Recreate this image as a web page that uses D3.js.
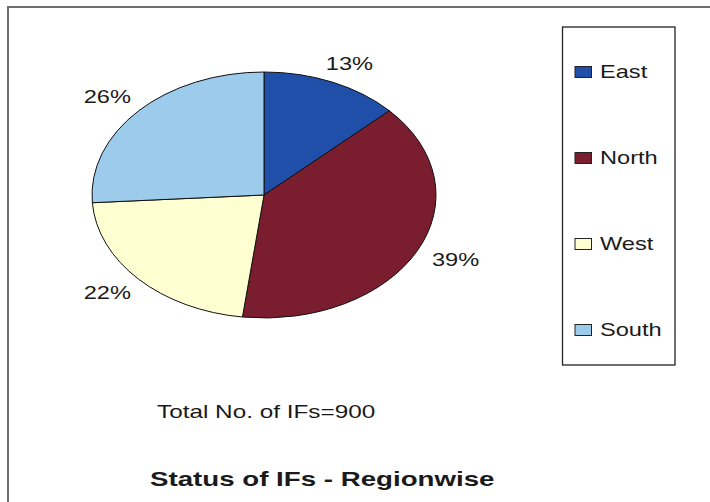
<!DOCTYPE html>
<html>
<head>
<meta charset="utf-8">
<script src="https://cdn.jsdelivr.net/npm/d3@7"></script>
<style>
  body { margin: 0; background: #fff; }
  text { font-family: "Liberation Sans", Arial, sans-serif; fill: #1a1a1a; }
</style>
</head>
<body>
<script>
// chart values
const regions = ['East', 'North', 'West', 'South'];
const shares = [13, 39, 22, 26];
const sliceColors = ['#1f4fa8', '#7a1d2e', '#ffffd2', '#9ccbeb'];
const totalNote = 'Total No. of IFs=900';
const chartTitle = 'Status of IFs - Regionwise';

const width = 710, height = 502;
const stretch = 1.35;               // the picture is wider than tall glyph-wise
const cx = 264, cy = 195, rx = 172, ry = 123;

const svg = d3.select('body').append('svg')
              .attr('width', width)
              .attr('height', height)

// outer frame (right and bottom edges fall outside the picture)
svg.append('rect')
   .attr('x', 8).attr('y', 7)
   .attr('width', 720).attr('height', 520)
   .attr('fill', 'none')
   .attr('stroke', '#6e6e6e')
   .attr('stroke-width', 2)

const data = regions.map((r, i) => ({region: r, value: shares[i], color: sliceColors[i]}))

const pie = d3.pie().sort(null).value(d => d.value)
const arcs = pie(data)
const arc = d3.arc().innerRadius(0).outerRadius(rx)

const pieG = svg.append('g')
                .attr('transform', `translate(${cx},${cy}) scale(1,${ry / rx})`)

pieG.selectAll('path')
    .data(arcs)
    .enter()
    .append('path')
    .attr('d', arc)
    .attr('fill', d => d.data.color)
    .attr('stroke', '#111')
    .attr('stroke-width', 1)
    .attr('vector-effect', 'non-scaling-stroke')

// percentage labels outside the ellipse
const labelRx = 215, labelRy = 143;
svg.selectAll('.pct')
   .data(arcs)
   .enter()
   .append('text')
   .attr('class', 'pct')
   .attr('transform', d => {
      const a = (d.startAngle + d.endAngle) / 2;
      const x = cx + Math.sin(a) * labelRx;
      const y = cy - Math.cos(a) * labelRy;
      return `translate(${x},${y}) scale(${stretch},1)`;
   })
   .attr('text-anchor', 'middle')
   .attr('dy', '0.36em')
   .style('font-size', '17.5px')
   .text(d => d.data.value + '%')

// legend
const legend = svg.append('g')
legend.append('rect')
      .attr('x', 562.5).attr('y', 27)
      .attr('width', 112.5).attr('height', 338)
      .attr('fill', '#fff')
      .attr('stroke', '#222')
      .attr('stroke-width', 1.3)

const legendY = d3.scaleLinear().domain([0, regions.length - 1]).range([72, 330])

const items = legend.selectAll('.item')
                    .data(data)
                    .enter()
                    .append('g')
                    .attr('class', 'item')
                    .attr('transform', (d, i) => `translate(575,${legendY(i)})`)

items.append('rect')
     .attr('x', 0).attr('y', -5.5)
     .attr('width', 16.5).attr('height', 11)
     .attr('fill', d => d.color)
     .attr('stroke', '#222')
     .attr('stroke-width', 1)

items.append('text')
     .attr('transform', `translate(25,0) scale(${stretch},1)`)
     .attr('dy', '0.36em')
     .style('font-size', '17.5px')
     .text(d => d.region)

// notes
svg.append('text')
   .attr('transform', `translate(157,418) scale(1.39,1)`)
   .style('font-size', '17.5px')
   .text(totalNote)

svg.append('text')
   .attr('transform', `translate(150,486) scale(1.42,1)`)
   .style('font-size', '19.5px')
   .style('font-weight', 'bold')
   .text(chartTitle)
</script>
</body>
</html>
